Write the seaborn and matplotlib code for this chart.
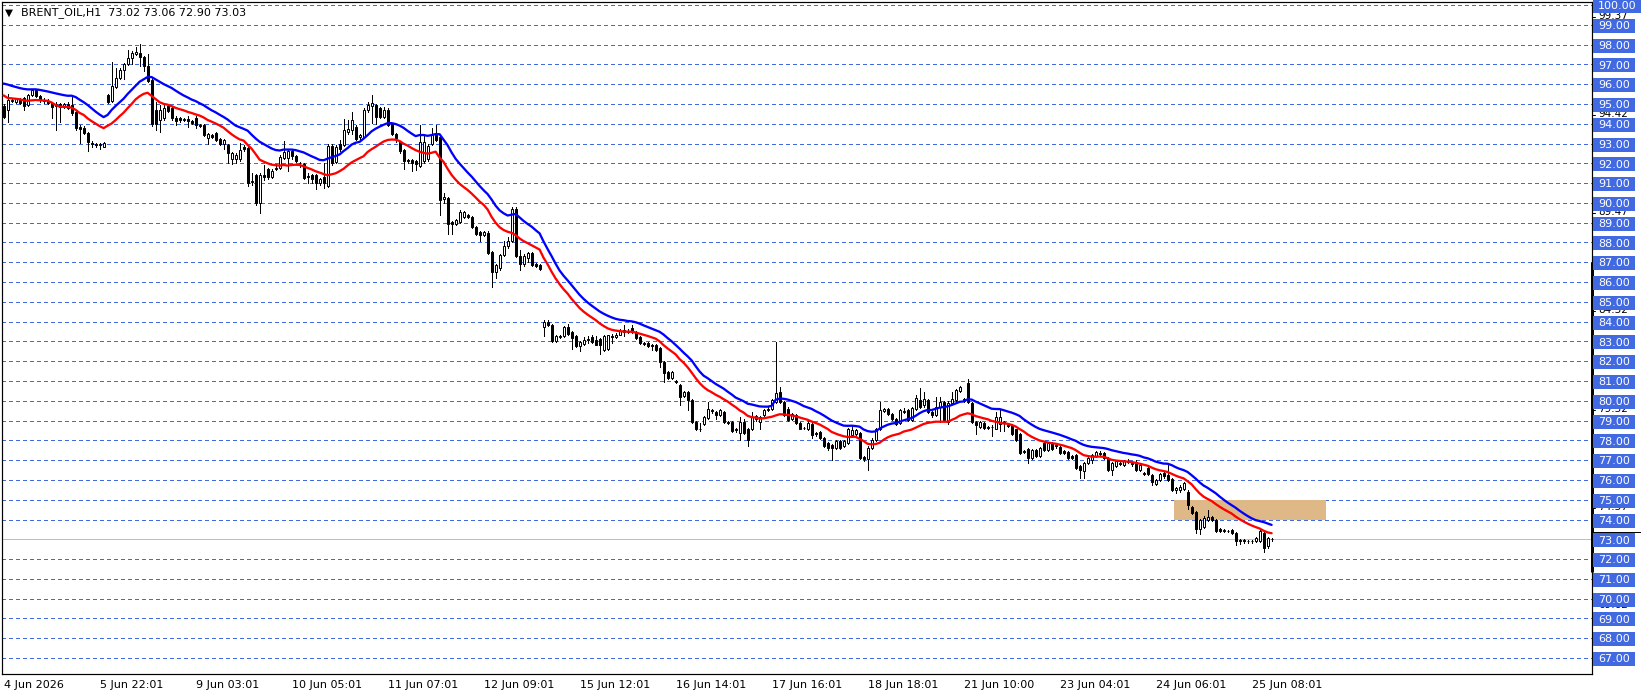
import numpy as np
import pandas as pd
import matplotlib
matplotlib.use("Agg")
import matplotlib.pyplot as plt
import seaborn as sns
from matplotlib.patches import Rectangle

# ---------------- data ----------------
opens = [
    94.9, 94.7, 95.15, 95.1, 95.2, 95.3, 94.95, 95.45, 95.7, 95.4,
    95.2, 95.15, 95.05, 94.9, 95.0, 94.85, 95.0, 94.95, 94.6, 93.85,
    93.8, 93.55, 93.05, 93.0, 92.95, 92.85, 95.45, 95.15, 95.85, 96.3,
    96.7, 97.0, 97.3, 97.5, 97.6, 97.35, 96.9, 96.2, 94.7, 94.2,
    94.3, 94.9, 94.8, 94.3, 94.3, 94.2, 94.25, 94.15, 94.3, 93.95,
    93.95, 93.3, 93.45, 93.55, 93.25, 93.0, 92.95, 92.2, 92.2, 92.2,
    92.85, 92.75, 91.05, 91.4, 90.0, 91.4, 91.7, 91.3, 91.75, 91.75,
    92.25, 92.25, 92.6, 92.35, 92.0, 91.95, 91.35, 91.4, 91.4, 91.0,
    91.3, 90.85, 92.9, 92.05, 93.0, 92.95, 93.6, 93.7, 93.85, 93.35,
    93.35, 94.7, 94.9, 94.95, 94.8, 94.35, 94.7, 94.0, 93.5, 93.1,
    92.65, 92.15, 92.15, 92.1, 91.85, 92.1, 92.2, 93.0, 93.45, 93.35,
    90.2, 90.25, 89.05, 88.95, 89.05, 89.3, 89.4, 89.3, 88.8, 88.55,
    88.4, 88.5, 87.5, 86.5, 86.7, 87.35, 87.8, 88.1, 89.7, 87.3,
    86.9, 87.2, 87.45, 86.9, 86.85, 83.75, 84.0, 83.85, 83.0, 83.2,
    83.25, 83.75, 83.5, 83.25, 82.75, 82.85, 83.05, 83.2, 83.05, 83.1,
    82.55, 82.6, 83.25, 83.2, 83.35, 83.5, 83.55, 83.7, 83.5, 83.2,
    82.9, 82.9, 82.8, 82.8, 82.65, 81.98, 81.45, 81.15, 81.0, 80.8,
    80.25, 80.45, 80.05, 78.95, 78.55, 78.85, 79.15, 79.55, 79.45, 79.3,
    79.45, 78.95, 78.95, 78.6, 78.35, 78.95, 78.6, 78.55, 79.1, 78.95,
    79.3, 79.55, 79.6, 79.95, 80.45, 79.95, 79.6, 79.1, 79.3, 78.9,
    78.65, 78.55, 78.85, 78.35, 78.4, 78.1, 77.85, 77.75, 77.6, 77.95,
    77.7, 77.85, 78.25, 78.3, 78.35, 77.15, 77.05, 77.6, 78.0, 78.55,
    79.5, 79.6, 79.35, 79.1, 78.9, 79.45, 79.55, 79.05, 79.6, 80.05,
    79.8, 80.05, 79.45, 79.3, 79.7, 79.95, 78.95, 79.9, 80.05, 80.5,
    80.1, 80.9, 79.9, 78.95, 78.7, 78.9, 78.7, 78.7, 78.6, 78.85,
    78.95, 78.8, 78.8, 78.55, 78.3, 77.45, 77.55, 77.1, 77.5, 77.2,
    77.85, 77.5, 77.85, 77.75, 77.65, 77.45, 77.4, 77.2, 77.25, 76.7,
    76.45, 76.85, 77.0, 77.2, 77.35, 77.35, 77.1, 76.5, 76.7, 76.85,
    76.75, 76.95, 76.85, 76.9, 76.5, 76.35, 76.6, 76.25, 75.8, 76.0,
    76.35, 76.25, 76.05, 75.5, 75.5, 75.55, 75.4, 74.65, 74.4, 73.5,
    73.6, 74.0, 74.15, 74.0, 73.5, 73.45, 73.4, 73.45, 73.3, 72.95,
    72.95, 72.9, 72.92, 72.9, 72.9, 73.3, 72.65, 73.02,
]
highs = [
    95.0, 95.5, 95.3, 95.3, 95.3, 95.35, 95.5, 95.75, 95.75, 95.45,
    95.3, 95.25, 95.1, 95.1, 95.05, 95.05, 95.1, 95.45, 94.7, 93.95,
    93.9, 93.6, 93.15, 93.05, 93.05, 93.1, 95.5, 97.1, 96.8, 96.8,
    97.05, 97.75, 97.7, 97.9, 98.05, 97.4, 97.5, 96.3, 95.1, 94.95,
    94.95, 95.0, 94.85, 94.4, 94.35, 94.3, 94.4, 94.2, 94.4, 94.0,
    94.0, 93.55, 93.5, 93.6, 93.3, 93.25, 93.0, 92.55, 92.5, 93.05,
    92.95, 92.8, 91.5, 91.45, 91.5, 91.9, 91.75, 91.7, 91.95, 92.4,
    93.15, 92.7, 92.7, 92.4, 92.05, 92.0, 91.5, 91.45, 91.45, 91.25,
    92.0, 93.0, 93.0, 92.95, 93.2, 94.25, 94.2, 94.6, 93.95, 93.5,
    94.8, 95.1, 95.45, 95.0, 94.85, 94.85, 94.8, 94.05, 93.55, 93.15,
    92.7, 92.2, 92.2, 92.15, 93.95, 93.45, 93.0, 93.8, 93.95, 93.4,
    90.5, 90.3, 89.1, 89.2, 89.65, 89.6, 89.45, 89.35, 88.85, 88.6,
    88.6, 88.6, 87.55, 86.9, 87.4, 88.05, 88.3, 89.8, 89.8, 87.6,
    87.4, 87.5, 87.5, 86.95, 86.9, 84.1, 84.1, 83.9, 83.3, 83.3,
    83.8, 83.9, 83.55, 83.3, 83.0, 83.2, 83.25, 83.3, 83.25, 83.15,
    83.3, 83.35, 83.4, 83.45, 83.65, 83.85, 83.65, 83.85, 83.55, 83.25,
    82.95, 82.95, 82.85, 82.85, 82.7, 82.0, 81.5, 81.5, 81.05, 80.85,
    80.5, 80.5, 80.1, 79.0, 78.9, 79.25, 79.95, 79.6, 79.5, 79.6,
    79.5, 79.0, 79.0, 78.65, 79.2, 79.1, 78.65, 79.45, 79.3, 79.25,
    79.6, 79.7, 80.1, 82.98, 80.7, 80.0, 79.7, 79.4, 79.35, 78.95,
    78.7, 79.0, 78.9, 78.4, 78.45, 78.15, 77.9, 77.8, 78.0, 78.0,
    78.0, 78.65, 78.8, 78.55, 78.4, 77.2, 77.7, 78.1, 78.65, 79.95,
    79.65, 79.65, 79.4, 79.15, 79.6, 79.65, 79.6, 79.7, 80.3, 80.65,
    80.45, 80.1, 79.5, 80.2, 80.2, 80.0, 80.0, 80.45, 80.6, 80.75,
    80.15, 81.1, 79.95, 79.0, 79.0, 78.95, 78.75, 78.8, 79.45, 79.55,
    79.0, 78.85, 78.85, 78.6, 78.35, 77.5, 77.6, 77.55, 77.55, 77.65,
    77.9, 77.9, 77.9, 77.8, 77.7, 77.5, 77.45, 77.25, 77.3, 76.75,
    76.9, 77.15, 77.3, 77.45, 77.45, 77.4, 77.15, 76.9, 77.0, 76.9,
    77.0, 77.05, 76.9, 77.0, 76.8, 76.4, 76.65, 76.3, 76.05, 76.35,
    76.4, 76.75, 76.1, 75.65, 75.75, 75.9, 75.5, 74.7, 74.45, 74.05,
    74.2, 74.5, 74.2, 74.05, 73.55, 73.5, 73.45, 73.5, 73.35, 73.0,
    73.0, 72.95, 72.98, 73.1, 73.45, 73.4, 73.1, 73.06,
]
lows = [
    94.3, 94.1, 95.1, 95.05, 95.0, 94.7, 94.9, 95.4, 95.35, 95.1,
    95.05, 95.0, 94.3, 93.7, 94.1, 94.8, 94.75, 94.45, 93.7, 93.05,
    93.5, 92.6, 92.8, 92.8, 92.7, 92.8, 95.05, 95.1, 95.8, 96.25,
    96.25, 96.95, 97.0, 97.45, 96.9, 96.65, 96.1, 93.9, 93.7, 93.6,
    94.2, 94.6, 94.2, 93.95, 94.1, 94.15, 93.85, 94.0, 93.8, 93.85,
    93.4, 93.0, 93.3, 93.15, 92.95, 92.7, 92.0, 91.95, 92.0, 92.1,
    92.6, 90.85, 90.9, 89.9, 89.5, 91.15, 91.2, 91.25, 91.65, 91.7,
    92.2, 91.6, 92.2, 92.05, 91.8, 91.2, 91.0, 91.0, 90.7, 90.9,
    90.75, 90.8, 91.9, 92.0, 92.6, 92.9, 93.5, 93.5, 93.2, 93.25,
    93.3, 94.6, 94.05, 94.0, 94.3, 94.3, 93.9, 93.45, 93.1, 92.5,
    91.7, 92.0, 91.6, 91.65, 91.8, 92.0, 92.1, 92.95, 93.15, 89.4,
    90.0, 88.45, 88.45, 88.9, 89.0, 89.25, 89.25, 88.75, 88.4, 88.1,
    88.35, 87.4, 85.75, 86.2, 86.6, 87.3, 87.7, 88.0, 87.25, 86.6,
    86.8, 87.0, 86.8, 86.75, 86.6, 83.25, 83.8, 82.95, 82.95, 83.15,
    83.2, 83.35, 82.6, 82.7, 82.5, 82.8, 82.9, 82.9, 82.8, 82.35,
    82.5, 82.55, 82.9, 83.15, 83.3, 83.25, 83.45, 83.45, 83.1, 82.85,
    82.8, 82.7, 82.55, 82.5, 81.7, 80.97, 81.1, 81.1, 80.9, 79.8,
    80.2, 79.55, 78.9, 78.5, 78.45, 78.8, 79.1, 79.4, 79.1, 79.25,
    78.9, 78.85, 78.4, 78.4, 78.0, 78.3, 77.7, 78.5, 79.0, 78.6,
    79.25, 79.5, 79.55, 79.9, 79.9, 79.25, 79.0, 79.05, 78.85, 78.55,
    78.55, 78.5, 78.1, 78.2, 78.05, 77.65, 77.5, 77.0, 77.55, 77.55,
    77.65, 77.8, 78.2, 78.25, 77.05, 76.95, 76.5, 77.55, 77.95, 78.5,
    79.45, 79.3, 79.05, 78.8, 78.85, 79.4, 79.0, 79.0, 79.55, 79.65,
    79.7, 79.4, 79.2, 79.25, 78.95, 79.0, 78.85, 79.85, 80.0, 80.45,
    79.95, 79.9, 78.9, 78.3, 78.65, 78.6, 78.6, 78.2, 78.55, 78.45,
    78.45, 78.7, 78.25, 77.95, 77.3, 77.35, 76.85, 77.05, 77.15, 77.15,
    77.45, 77.45, 77.5, 77.6, 77.3, 77.3, 77.05, 77.05, 76.55, 76.1,
    76.1, 76.8, 76.85, 77.15, 77.25, 77.05, 76.45, 76.25, 76.65, 76.75,
    76.7, 76.85, 76.7, 76.45, 76.45, 76.25, 76.25, 75.75, 75.75, 75.95,
    76.1, 75.95, 75.45, 75.35, 75.4, 75.5, 74.55, 74.3, 73.3, 73.25,
    73.55, 73.95, 73.95, 73.35, 73.35, 73.35, 73.35, 73.25, 72.7, 72.75,
    72.8, 72.8, 72.8, 72.85, 72.85, 72.38, 72.55, 72.90,
]
closes = [
    94.35, 95.2, 95.2, 95.25, 95.05, 94.9, 95.45, 95.7, 95.4, 95.2,
    95.15, 95.05, 94.85, 95.0, 94.85, 95.0, 94.8, 94.55, 93.8, 93.75,
    93.55, 93.1, 93.0, 92.95, 93.0, 93.05, 95.1, 95.9, 96.3, 96.7,
    97.0, 97.3, 97.55, 97.65, 97.35, 96.9, 96.15, 94.0, 94.0, 94.7,
    94.8, 94.65, 94.3, 94.15, 94.2, 94.25, 94.15, 94.05, 93.95, 93.9,
    93.45, 93.5, 93.35, 93.2, 93.0, 93.2, 92.5, 92.5, 92.4, 92.65,
    92.7, 91.0, 91.1, 90.0, 91.4, 91.3, 91.3, 91.6, 91.7, 92.3,
    92.55, 92.6, 92.35, 92.1, 92.0, 91.25, 91.3, 91.2, 91.0, 91.2,
    91.0, 92.9, 92.0, 92.85, 92.7, 93.7, 93.75, 94.2, 93.25, 93.45,
    94.7, 94.95, 95.05, 94.35, 94.35, 94.7, 93.95, 93.5, 93.3, 92.6,
    92.1, 92.1, 92.0, 91.95, 93.1, 93.1, 92.9, 93.45, 93.2, 90.15,
    90.3, 88.95, 88.95, 89.15, 89.55, 89.55, 89.3, 88.8, 88.45, 88.4,
    88.55, 87.45, 86.5, 86.85, 87.35, 87.8, 88.05, 89.7, 87.3, 86.9,
    87.3, 87.45, 86.85, 86.8, 86.65, 84.0, 83.85, 83.0, 83.25, 83.25,
    83.75, 83.4, 83.15, 82.75, 82.95, 83.05, 83.1, 82.95, 82.8, 82.8,
    83.25, 83.3, 83.2, 83.35, 83.55, 83.6, 83.5, 83.5, 83.15, 82.9,
    82.85, 82.75, 82.75, 82.55, 81.98, 81.4, 81.15, 81.45, 80.95, 80.2,
    80.45, 80.05, 78.95, 78.55, 78.6, 79.2, 79.6, 79.5, 79.3, 79.55,
    78.95, 78.9, 78.45, 78.5, 78.95, 78.35, 78.0, 79.2, 79.25, 79.2,
    79.55, 79.6, 80.05, 80.4, 79.95, 79.3, 79.05, 79.35, 78.9, 78.6,
    78.65, 78.9, 78.25, 78.3, 78.1, 77.7, 77.6, 77.6, 77.95, 77.6,
    77.95, 78.6, 78.5, 78.5, 77.1, 77.05, 77.6, 78.0, 78.6, 79.55,
    79.6, 79.35, 79.1, 78.85, 79.55, 79.5, 79.05, 79.65, 80.15, 79.7,
    80.1, 79.45, 79.3, 79.7, 79.95, 79.05, 79.9, 80.1, 80.55, 80.7,
    80.0, 79.95, 78.95, 78.8, 78.95, 78.65, 78.65, 78.7, 79.2, 79.2,
    78.9, 78.75, 78.3, 78.0, 77.35, 77.4, 77.1, 77.5, 77.2, 77.6,
    77.5, 77.85, 77.55, 77.7, 77.35, 77.35, 77.1, 77.1, 76.6, 76.5,
    76.85, 77.1, 77.25, 77.4, 77.3, 77.1, 76.5, 76.85, 76.95, 76.8,
    76.95, 76.9, 76.8, 76.5, 76.75, 76.3, 76.3, 75.9, 76.0, 76.3,
    76.2, 76.0, 75.5, 75.6, 75.65, 75.85, 74.75, 74.35, 73.5, 74.0,
    74.1, 74.15, 74.0, 73.4, 73.4, 73.4, 73.4, 73.3, 72.9, 72.92,
    72.9, 72.92, 72.9, 73.05, 73.4, 72.55, 73.05, 73.03,
]

tick_bars = [0, 24, 48, 72, 96, 120, 144, 168, 192, 216, 240, 264, 288, 312]
tick_labels = ["4 Jun 2026", "5 Jun 22:01", "9 Jun 03:01", "10 Jun 05:01",
               "11 Jun 07:01", "12 Jun 09:01", "15 Jun 12:01", "16 Jun 14:01",
               "17 Jun 16:01", "18 Jun 18:01", "21 Jun 10:00", "23 Jun 04:01",
               "24 Jun 06:01", "25 Jun 08:01"]
price_levels = list(range(67, 101))
aux_values = [99.37, 94.42, 89.47, 84.52, 79.52, 74.57, 69.62]
aux_labels = ["99.37", "94.42", "89.47", "84.52", "79.52", "74.57", "69.62"]
bid_price = 73.03
title_text = "BRENT_OIL,H1  73.02 73.06 72.90 73.03"
ma_period = 20
ma_seed_high = 96.14
ma_seed_low = 95.55
zone_low, zone_high = 74.0, 75.0
zone_start_bar, zone_end_bar = 292.6, 330.6

assert len(opens) == len(highs) == len(lows) == len(closes)

# ---------------- frame ----------------
n = len(closes)
df = pd.DataFrame({"bar": np.arange(n), "open": opens, "high": highs,
                   "low": lows, "close": closes})


def ema(values, period, seed):
    a = 2.0 / (period + 1)
    out, prev = [], seed
    for v in values:
        prev = a * v + (1 - a) * prev
        out.append(prev)
    return out


df["ma_high"] = ema(df["high"], ma_period, ma_seed_high)
df["ma_low"] = ema(df["low"], ma_period, ma_seed_low)

# ---------------- figure ----------------
sns.set_style("white")
plt.rcParams["font.family"] = ["DejaVu Sans"]
W, H = 1641, 698
PX = 72.0 / 100  # one pixel in points
fig = plt.figure(figsize=(W / 100, H / 100), dpi=100)
fig.patch.set_facecolor("white")
ax = fig.add_axes([2 / W, 24 / H, 1590 / W, 672 / H])
ymin, ymax = 66.195, 100.152
ax.set_xlim(-0.4, 397.1)
ax.set_ylim(ymin, ymax)

grid_color = "#4169E1"
for p in price_levels:
    ax.axhline(p, color=grid_color, lw=PX, linestyle=(0, (4, 3)),
               zorder=1, antialiased=False)
ax.axhline(bid_price, color="#BEBEBE", lw=PX, zorder=1.5)

ax.add_patch(Rectangle((zone_start_bar, zone_low), zone_end_bar - zone_start_bar,
                       zone_high - zone_low, facecolor="#DEB887",
                       edgecolor="none", zorder=2))

# candles
ax.vlines(df["bar"], df["low"], df["high"], color="black", lw=PX, zorder=3,
          antialiased=False)
up = df["close"] >= df["open"]
ax.bar(df["bar"][up], (df["close"] - df["open"])[up], bottom=df["open"][up],
       width=0.5, facecolor="white", edgecolor="black", linewidth=PX, zorder=4)
ax.bar(df["bar"][~up], (df["close"] - df["open"])[~up], bottom=df["open"][~up],
       width=0.5, facecolor="black", edgecolor="black", linewidth=PX, zorder=4)

# moving averages
sns.lineplot(data=df, x="bar", y="ma_high", color="#0000FF", lw=1.65,
             ax=ax, zorder=5, legend=False)
sns.lineplot(data=df, x="bar", y="ma_low", color="#FF0000", lw=1.65,
             ax=ax, zorder=5, legend=False)

# axes styling
for s in ["left", "bottom", "right", "top"]:
    ax.spines[s].set_visible(True)
    ax.spines[s].set_color("black")
    ax.spines[s].set_linewidth(PX * 1.2)
ax.set_yticks([])
ax.set_xlabel("")
ax.set_ylabel("")
ax.set_xticks(tick_bars)
ax.set_xticklabels(tick_labels, ha="left", fontsize=8, color="black")
ax.tick_params(axis="x", length=4 * PX, width=PX, pad=1.5, color="black",
               direction="out")
ax.plot([397.1, 397.1], [71.35, 87.01], color="black", lw=3 * PX,
        solid_capstyle="butt", clip_on=False, zorder=6)

# right price scale
ax2 = fig.add_axes([1592 / W, 24 / H, 49 / W, 672 / H])
ax2.set_xlim(0, 49)
ax2.set_ylim(ymin, ymax)
ax2.axis("off")
unit = 1 / 19.79
for v, lab in zip(aux_values, aux_labels):
    ax2.text(6, v + 1.5 * unit, lab, ha="left", va="center", fontsize=7.5,
             color="black", zorder=1)
    ax2.plot([0, 3], [v, v], color="black", lw=PX, zorder=1)
for a, b in zip(aux_values[:-1], aux_values[1:]):
    m = (a + b) / 2
    ax2.plot([0, 3], [m, m], color="black", lw=PX, zorder=1)
for p in price_levels:
    lab = f"{p:.2f}"
    wbox = 48 if len(lab) > 5 else 42
    ax2.add_patch(Rectangle((1, p - 8 * unit), wbox, 14 * unit,
                            facecolor=grid_color, edgecolor="none", zorder=2,
                            clip_on=False))
    ax2.text(1 + wbox / 2, p - 1.2 * unit, lab, ha="center", va="center",
             fontsize=8, color="white", zorder=3, clip_on=False)
ax2.plot([1, 49], [73.36, 73.36], color="black", lw=PX, zorder=4)

# header
fig.text(5 / W, 1 - 12.5 / H, "\u25BC", fontsize=7.5, va="center", ha="left",
         color="black")
fig.text(21 / W, 1 - 12.5 / H, title_text, fontsize=8, va="center",
         ha="left", color="black")

fig.savefig("out.png", dpi=100, facecolor="white")
